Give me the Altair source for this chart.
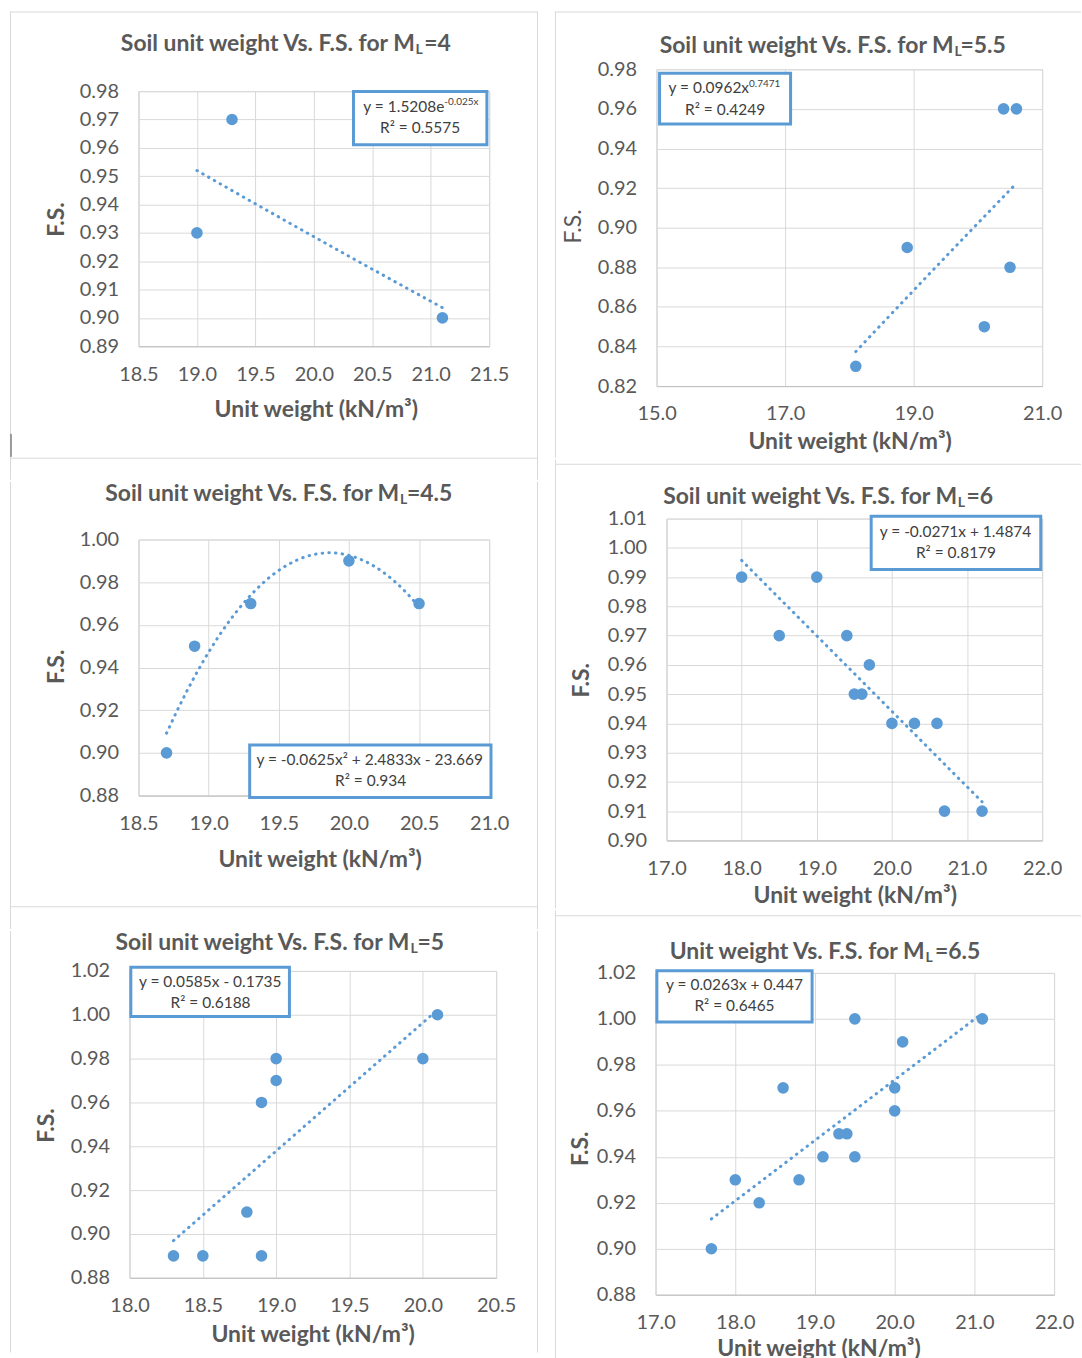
import altair as alt
import pandas as pd

# ---------------- data: unit weight (kN/m3) and factor of safety ----------------
# M_L = 4
ml4_weight = [19.0, 19.3, 21.1]
ml4_fs = [0.93, 0.97, 0.90]
ml4_xticks = [18.5, 19.0, 19.5, 20.0, 20.5, 21.0, 21.5]
ml4_yticks = [0.89, 0.90, 0.91, 0.92, 0.93, 0.94, 0.95, 0.96, 0.97, 0.98]

# M_L = 5.5
ml55_weight = [18.1, 18.9, 20.1, 20.4, 20.5, 20.6]
ml55_fs = [0.83, 0.89, 0.85, 0.96, 0.88, 0.96]
ml55_xticks = [15.0, 17.0, 19.0, 21.0]
ml55_yticks = [0.82, 0.84, 0.86, 0.88, 0.90, 0.92, 0.94, 0.96, 0.98]

# M_L = 4.5
ml45_weight = [18.7, 18.9, 19.3, 20.0, 20.5]
ml45_fs = [0.90, 0.95, 0.97, 0.99, 0.97]
ml45_xticks = [18.5, 19.0, 19.5, 20.0, 20.5, 21.0]
ml45_yticks = [0.88, 0.90, 0.92, 0.94, 0.96, 0.98, 1.00]

# M_L = 6
ml6_weight = [18.0, 18.5, 19.0, 19.4, 19.5, 19.6, 19.7, 20.0, 20.3, 20.6, 20.7, 21.2]
ml6_fs = [0.99, 0.97, 0.99, 0.97, 0.95, 0.95, 0.96, 0.94, 0.94, 0.94, 0.91, 0.91]
ml6_xticks = [17.0, 18.0, 19.0, 20.0, 21.0, 22.0]
ml6_yticks = [0.90, 0.91, 0.92, 0.93, 0.94, 0.95, 0.96, 0.97, 0.98, 0.99, 1.00, 1.01]

# M_L = 5
ml5_weight = [18.3, 18.5, 18.8, 18.9, 18.9, 19.0, 19.0, 20.0, 20.1]
ml5_fs = [0.89, 0.89, 0.91, 0.89, 0.96, 0.97, 0.98, 0.98, 1.00]
ml5_xticks = [18.0, 18.5, 19.0, 19.5, 20.0, 20.5]
ml5_yticks = [0.88, 0.90, 0.92, 0.94, 0.96, 0.98, 1.00, 1.02]

# M_L = 6.5
ml65_weight = [17.7, 18.0, 18.3, 18.6, 18.8, 19.1, 19.3, 19.4, 19.5, 19.5, 20.0, 20.0, 20.1, 21.1]
ml65_fs = [0.90, 0.93, 0.92, 0.97, 0.93, 0.94, 0.95, 0.95, 0.94, 1.00, 0.97, 0.96, 0.99, 1.00]
ml65_xticks = [17.0, 18.0, 19.0, 20.0, 21.0, 22.0]
ml65_yticks = [0.88, 0.90, 0.92, 0.94, 0.96, 0.98, 1.00, 1.02]

# ---------------- styling ----------------
BLUE = "#5b9bd5"
GRID = "#d9d9d9"
TEXT = "#595959"
EQ_TEXT = "#404040"
FONT = "Lato"
X_TITLE = "Unit weight (kN/m³)"
TITLE_SIZE = 23
EQ_SIZE = 15.5


def single():
    return alt.Chart(pd.DataFrame({"k": [0]}))


def label(text, x, y, size, align="center", weight="normal", color=TEXT):
    return single().mark_text(
        text=text, font=FONT, fontSize=size, fontWeight=weight, color=color,
        align=align, baseline="middle",
    ).encode(x=alt.value(x), y=alt.value(y))


def block(x0, y0, x1, y1, **style):
    return single().mark_rect(**style).encode(
        x=alt.value(x0), x2=alt.value(x1), y=alt.value(y0), y2=alt.value(y1))


def panel(weight, fs, method, xticks, yticks, plot, corner, edges, title, eq, box,
          ytitle, xtitle, ytitle_weight="bold"):
    """One scatter panel; every placement argument is given in page pixels."""
    px, py, w, h = plot
    bottom = py + h

    df = pd.DataFrame({"w": weight, "fs": fs})
    xs = alt.Scale(domain=[xticks[0], xticks[-1]], nice=False, zero=False)
    ys = alt.Scale(domain=[yticks[0], yticks[-1]], nice=False, zero=False)
    xaxis = alt.Axis(values=xticks, format=".1f", title=X_TITLE,
                     titleX=xtitle[0] - px, titleY=xtitle[1] - bottom,
                     titleAlign="center", titleBaseline="middle",
                     titleFontWeight="bold")
    yaxis = alt.Axis(values=yticks, format=".2f", title="F.S.",
                     titleX=ytitle[0] - px, titleY=ytitle[1] - py, titleAngle=270,
                     titleAlign="center", titleBaseline="middle",
                     titleFontWeight=ytitle_weight)
    enc = dict(x=alt.X("w:Q", scale=xs, axis=xaxis),
               y=alt.Y("fs:Q", scale=ys, axis=yaxis))

    # invisible 1px marker at the top-left corner of the panel's grid cell
    cx, cy = corner
    anchor = block(cx - px, cy - py, cx - px + 1, cy - py + 1, opacity=0)

    # light outline segments around the panel (thin filled strips)
    outline = [block(x0 - px, y0 - py, x1 - px, y1 - py, color=col)
               for x0, y0, x1, y1, col in edges]

    points = alt.Chart(df).mark_circle(size=135, color=BLUE, opacity=1).encode(**enc)
    trend = alt.Chart(df).transform_regression("w", "fs", method=method).mark_line(
        color=BLUE, strokeWidth=3, strokeDash=[0.5, 6.2], strokeCap="round"
    ).encode(**enc)

    # boxed trendline equation
    bx0, bx1, by0, by1 = box
    box_layer = block(bx0 - px, by0 - py, bx1 - px, by1 - py,
                      fill="white", stroke=BLUE, strokeWidth=3)
    eq_layers = [label(t, x - px, y - py, s, align=a, color=EQ_TEXT)
                 for t, x, y, s, a in eq]

    # title with subscript L
    main, sub, tail, t_right, t_sub, t_tail, t_y = title
    title_layers = [
        label(main, t_right - px, t_y - py, TITLE_SIZE, align="right", weight="bold"),
        label(sub, t_sub - px, t_y - py + 6, 14, align="left", weight="bold"),
        label(tail, t_tail - px, t_y - py, TITLE_SIZE, align="left", weight="bold"),
    ]

    return alt.layer(anchor, *outline, trend, points, box_layer, *eq_layers,
                     *title_layers).properties(width=w, height=h)


OUT = GRID
p1 = panel(
    ml4_weight, ml4_fs, "exp", ml4_xticks, ml4_yticks,
    plot=(138, 88, 352, 256), corner=(1, 1),
    edges=[(9, 8, 10, 478, OUT), (538, 8, 539, 478, OUT), (9, 8, 539, 9, OUT),
           (9, 456, 539, 457, OUT), (9, 432, 11, 455, "#9a9a9a")],
    title=("Soil unit weight Vs. F.S. for M", "L", "=4", 415.4, 416, 424.7, 40.3),
    eq=[("y = 1.5208e", 445, 104.3, EQ_SIZE, "right"), ("-0.025x", 445, 99.3, 10, "left"),
        ("R² = 0.5575", 420.6, 125, EQ_SIZE, "center")],
    box=(353.8, 487.7, 88.3, 141.7), ytitle=(55.6, 216.3), xtitle=(316, 408))

p3 = panel(
    ml45_weight, ml45_fs, "quad", ml45_xticks, ml45_yticks,
    plot=(138, 536, 352, 257), corner=(1, 478),
    edges=[(9, 478, 10, 927, OUT), (538, 478, 539, 927, OUT), (9, 904, 539, 905, OUT)],
    title=("Soil unit weight Vs. F.S. for M", "L", "=4.5", 399.7, 400.4, 407.4, 490.5),
    eq=[("y = -0.0625x² + 2.4833x - 23.669", 370, 757.7, EQ_SIZE, "center"),
        ("R² = 0.934", 371, 778.3, EQ_SIZE, "center")],
    box=(249.6, 491.8, 742.3, 795), ytitle=(55.6, 663.3), xtitle=(319.8, 856.7))

p5 = panel(
    ml5_weight, ml5_fs, "linear", ml5_xticks, ml5_yticks,
    plot=(129, 967, 368, 308), corner=(1, 927),
    edges=[(9, 927, 10, 1350, OUT), (538, 927, 539, 1350, OUT)],
    title=("Soil unit weight Vs. F.S. for M", "L", "=5", 410, 411, 418, 939),
    eq=[("y = 0.0585x - 0.1735", 210, 977.7, EQ_SIZE, "center"),
        ("R² = 0.6188", 210.3, 999.3, EQ_SIZE, "center")],
    box=(130.3, 289.5, 963.3, 1012.7), ytitle=(45.2, 1121.7), xtitle=(312.8, 1331.7))

p2 = panel(
    ml55_weight, ml55_fs, "pow", ml55_xticks, ml55_yticks,
    plot=(656, 66, 387, 318), corner=(548, 1),
    edges=[(554, 8, 555, 456, OUT), (554, 8, 1082, 9, OUT)],
    title=("Soil unit weight Vs. F.S. for M", "L", "=5.5", 954.2, 955, 961, 42.7),
    eq=[("y = 0.0962x", 748.8, 85, EQ_SIZE, "right"), ("0.7471", 748.8, 80.5, 10, "left"),
        ("R² = 0.4249", 724.8, 106.7, EQ_SIZE, "center")],
    box=(659, 790.5, 70, 121), ytitle=(572.4, 223.3), xtitle=(849.8, 440),
    ytitle_weight="normal")

p4 = panel(
    ml6_weight, ml6_fs, "linear", ml6_xticks, ml6_yticks,
    plot=(666, 515, 377, 323), corner=(548, 456),
    edges=[(554, 456, 555, 906, OUT), (554, 460, 1082, 461, OUT)],
    title=("Soil unit weight Vs. F.S. for M", "L", "=6", 957.7, 958.4, 967, 493.3),
    eq=[("y = -0.0271x + 1.4874", 956, 528.3, EQ_SIZE, "center"),
        ("R² = 0.8179", 956.5, 549.3, EQ_SIZE, "center")],
    box=(871.4, 1041.6, 512.7, 566), ytitle=(581, 676.7), xtitle=(854.9, 893))

p6 = panel(
    ml65_weight, ml65_fs, "linear", ml65_xticks, ml65_yticks,
    plot=(655, 969, 400, 323), corner=(539, 906),
    edges=[(554, 906, 555, 1358, OUT), (554, 911, 1082, 912, OUT)],
    title=("Unit weight Vs. F.S. for M", "L", "=6.5", 925, 925.8, 935.4, 948.3),
    eq=[("y = 0.0263x + 0.447", 734.2, 981, EQ_SIZE, "center"),
        ("R² = 0.6465", 734.2, 1002.7, EQ_SIZE, "center")],
    box=(656.3, 812.1, 966.7, 1018.3), ytitle=(579.2, 1145), xtitle=(818.6, 1345.5))

# 1x1 spacer cells for the leading grid row and column
spacer = block(0, 0, 1, 1, opacity=0).properties(
    width=1, height=1, view=alt.ViewBackground(strokeWidth=0, strokeOpacity=0))

cells = [spacer, spacer, spacer,
         spacer, p1, p2,
         spacer, p3, p4,
         spacer, p5, p6]

chart = alt.concat(
    *cells, columns=3, align="none", spacing=0,
).properties(
    padding=0
).configure_axis(
    labelFont=FONT, labelFontSize=20, labelColor=TEXT, labelPadding=20,
    labelFlush=False, labelOverlap=False,
    titleFont=FONT, titleFontSize=23, titleColor=TEXT,
    gridColor=GRID, gridWidth=1, ticks=False, domainColor=GRID,
).configure_axisX(
    labelPadding=18, domainColor="#bfbfbf",
).configure_view(stroke=GRID)

chart.save("out.html", embed_options={"renderer": "svg", "actions": False})
